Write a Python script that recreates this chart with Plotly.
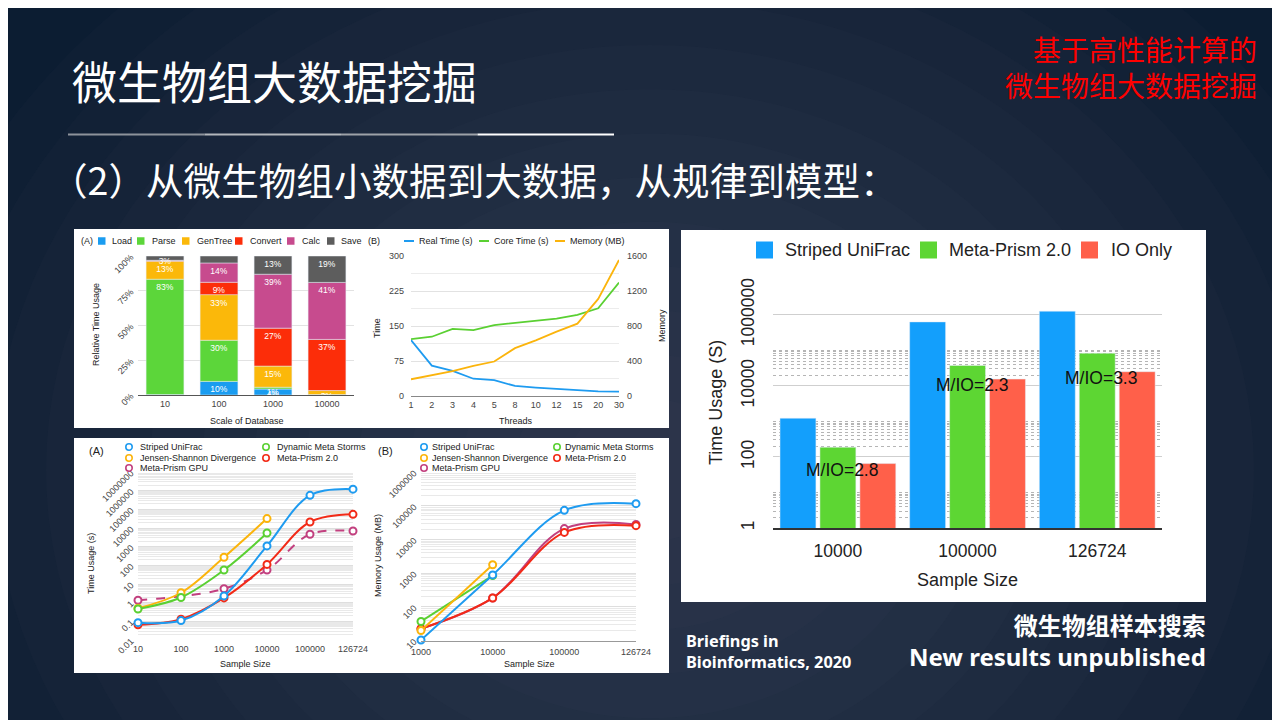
import plotly.graph_objects as go
import math

W, H = 1280, 720
OFF = 8  # page body margin offset compensation
def X(px): return (px - OFF) / W
def Y(py): return 1 - (py - OFF) / H

# ---------------- data ----------------
# (A) relative time usage by stage
scales = ["10", "100", "1000", "10000"]
stage_names = ["Load", "Parse", "GenTree", "Convert", "Calc", "Save"]
load = [0.3, 9.8, 4.3, 0.2]
parse = [83.0, 29.6, 1.3, 0.1]
gentree = [13.0, 32.8, 15.2, 2.9]
convert = [0.3, 8.9, 27.3, 36.8]
calc = [0.3, 13.9, 38.8, 41.0]
save = [3.1, 5.0, 13.1, 19.0]
stage_colors = ["#1a9cf0", "#5cd63a", "#fbb80a", "#fc2d09", "#c74b8e", "#5d5d5d"]

# (B) threads
threads = ["1", "2", "3", "4", "5", "8", "10", "12", "15", "20", "30"]
real_time = [120, 65, 54, 37, 34, 21.5, 18, 15, 13.6, 10, 9.3]
core_time = [122, 127, 144, 141, 152, 157, 161, 166, 174, 188, 243]
memory_mb = [191, 241, 283, 344, 394, 547, 635, 735, 827, 1110, 1554]

# (A) time usage vs sample size
time_sizes = ["10", "100", "1000", "10000", "100000", "126724"]
t_striped = [0.085, 0.11, 2.3, 1100, 560000, 1200000]
t_jsd = [0.5, 3.4, 270, 32000]
t_dms = [0.46, 1.9, 56, 5400]
t_mp2 = [0.066, 0.13, 1.8, 112, 21000, 54000]
t_gpu = [1.35, 2.2, 5.6, 56, 4600, 6900]

# (B) memory usage vs sample size
mem_sizes = ["1000", "10000", "100000", "126724"]
m_striped = [10.5, 890, 73000, 115000]
m_jsd = [20, 1780]
m_dms = [37, 850]
m_mp2 = [22.7, 185, 16200, 25700]
m_gpu = [22.7, 185, 21000, 28000]

method_names = ["Striped UniFrac", "Jensen-Shannon Divergence", "Meta-Prism GPU",
                "Dynamic Meta Storms", "Meta-Prism 2.0"]
method_colors = {"Striped UniFrac": "#1e9bf0", "Jensen-Shannon Divergence": "#fbb40c",
                 "Meta-Prism GPU": "#c2407f", "Dynamic Meta Storms": "#5ad032",
                 "Meta-Prism 2.0": "#f22a17"}

# right: new results
bar_sizes = ["10000", "100000", "126724"]
b_striped = [1230, 630000, 1260000]
b_mp2 = [187, 37500, 83000]
b_io = [65, 15500, 25000]
ratio_labels = ["M/IO=2.8", "M/IO=2.3", "M/IO=3.3"]
bar_names = ["Striped UniFrac", "Meta-Prism 2.0", "IO Only"]
bar_colors = ["#139ffc", "#5dd633", "#ff604a"]

# ---------------- figure ----------------
fig = go.Figure()
shapes = []
annotations = []
CF = "Liberation Sans"

def text(px, py, s, size, color="#222", xanchor="left", yanchor="middle",
         family=CF, angle=0, align="left"):
    annotations.append(dict(x=X(px), y=Y(py), xref="paper", yref="paper", text=s,
                            showarrow=False, xanchor=xanchor, yanchor=yanchor, align=align,
                            textangle=angle, font=dict(size=size, color=color, family=family)))

# background glow
for i in range(14):
    r = 760 - i * 52
    shapes.append(dict(type="circle", xref="paper", yref="paper", layer="below",
                       x0=X(650 - r), x1=X(650 + r), y0=Y(470 + r * 0.85), y1=Y(470 - r * 0.85),
                       fillcolor="rgba(88,104,124,0.045)", line=dict(width=0)))
# white panels
for (x0, y0, x1, y1) in [(74, 229, 669, 428), (74, 438, 669, 673), (681, 230, 1206, 602)]:
    shapes.append(dict(type="rect", xref="paper", yref="paper", layer="below",
                       x0=X(x0), x1=X(x1), y0=Y(y1), y1=Y(y0),
                       fillcolor="white", line=dict(width=0)))
# separator line
for k, c in enumerate(["#8d939b", "#b3b7bc", "#9da2a8", "#ffffff"]):
    shapes.append(dict(type="line", xref="paper", yref="paper",
                       x0=X(68 + k * 136.5), x1=X(68 + (k + 1) * 136.5), y0=Y(134.5), y1=Y(134.5),
                       line=dict(color=c, width=2)))

# ---- chart 1 : stacked bars ----
stages = [load, parse, gentree, convert, calc, save]
base = [0.0] * len(scales)
for name, vals, col in zip(stage_names, stages, stage_colors):
    labels = [f"{round(v)}%" if v >= 0.5 else "" for v in vals]
    fig.add_trace(go.Bar(x=scales, y=vals, base=list(base), name=name, marker_color=col,
                         width=0.7, offset=-0.35, text=labels, textposition="inside",
                         insidetextanchor="end", textangle=0, constraintext="none",
                         textfont=dict(size=8.5, color="white", family=CF),
                         xaxis="x", yaxis="y", showlegend=False, cliponaxis=False))
    base = [b + v for b, v in zip(base, vals)]

# ---- chart 2 : threads lines ----
fig.add_trace(go.Scatter(x=threads, y=real_time, mode="lines", line=dict(color="#1e9bf0", width=1.8),
                         xaxis="x2", yaxis="y2", showlegend=False))
fig.add_trace(go.Scatter(x=threads, y=core_time, mode="lines", line=dict(color="#5ad032", width=1.8),
                         xaxis="x2", yaxis="y2", showlegend=False))
fig.add_trace(go.Scatter(x=threads, y=memory_mb, mode="lines", line=dict(color="#fbb40c", width=1.8),
                         xaxis="x2", yaxis="y3", showlegend=False))

# ---- chart 3 : time usage ----
def method_trace(xs, ys, name, xa, ya, dash="solid"):
    c = method_colors[name]
    return go.Scatter(x=xs[:len(ys)], y=ys, mode="lines+markers", name=name,
                      line=dict(color=c, width=2, shape="spline", dash=dash),
                      marker=dict(symbol="circle", size=7, color="white", line=dict(color=c, width=2)),
                      xaxis=xa, yaxis=ya, showlegend=False, cliponaxis=False)

fig.add_trace(method_trace(time_sizes, t_gpu, "Meta-Prism GPU", "x3", "y4", dash="dash"))
fig.add_trace(method_trace(time_sizes, t_jsd, "Jensen-Shannon Divergence", "x3", "y4"))
fig.add_trace(method_trace(time_sizes, t_dms, "Dynamic Meta Storms", "x3", "y4"))
fig.add_trace(method_trace(time_sizes, t_mp2, "Meta-Prism 2.0", "x3", "y4"))
fig.add_trace(method_trace(time_sizes, t_striped, "Striped UniFrac", "x3", "y4"))

# ---- chart 4 : memory usage ----
fig.add_trace(method_trace(mem_sizes, m_gpu, "Meta-Prism GPU", "x4", "y5"))
fig.add_trace(method_trace(mem_sizes, m_mp2, "Meta-Prism 2.0", "x4", "y5"))
fig.add_trace(method_trace(mem_sizes, m_dms, "Dynamic Meta Storms", "x4", "y5"))
fig.add_trace(method_trace(mem_sizes, m_jsd, "Jensen-Shannon Divergence", "x4", "y5"))
fig.add_trace(method_trace(mem_sizes, m_striped, "Striped UniFrac", "x4", "y5"))

# ---- chart 5 : grouped bars (log) ----
bw, step, start = 0.277, 0.308, -0.446
for k, (name, vals, col) in enumerate(zip(bar_names, [b_striped, b_mp2, b_io], bar_colors)):
    fig.add_trace(go.Bar(x=bar_sizes, y=vals, name=name, marker_color=col, width=bw,
                         offset=start + k * step, xaxis="x5", yaxis="y6", showlegend=False))
for i, (lab, v) in enumerate(zip(ratio_labels, b_io)):
    annotations.append(dict(x=i, y=math.log10(v), xref="x5", yref="y6", text=lab, showarrow=False,
                            xshift=4, yshift=-6, font=dict(size=17.5, color="#111", family=CF)))

# ---------------- legends (manual) ----------------
def sq(x0, x1, cy, col):
    h = (x1 - x0) / 2
    shapes.append(dict(type="rect", xref="paper", yref="paper", x0=X(x0), x1=X(x1),
                       y0=Y(cy + h), y1=Y(cy - h), fillcolor=col, line=dict(width=0)))

def seg(x0, x1, cy, col):
    shapes.append(dict(type="line", xref="paper", yref="paper", x0=X(x0), x1=X(x1),
                       y0=Y(cy), y1=Y(cy), line=dict(color=col, width=2)))

def circ(cx, cy, col, r=3.2):
    shapes.append(dict(type="circle", xref="paper", yref="paper", x0=X(cx - r), x1=X(cx + r),
                       y0=Y(cy + r), y1=Y(cy - r), fillcolor="white", line=dict(color=col, width=1.6)))

# chart 1 legend
text(79, 241, "(A)", 9)
for name, col, (s0, tx) in zip(stage_names, stage_colors,
                               [(98, 110), (137, 150), (182, 195), (235, 248), (287, 300), (327, 339)]):
    sq(s0, s0 + 7.5, 241, col)
    text(tx, 241, name, 9)
# chart 2 legend
text(366, 241, "(B)", 9)
for name, col, (s0, tx) in zip(["Real Time (s)", "Core Time (s)", "Memory (MB)"],
                               ["#1e9bf0", "#5ad032", "#fbb40c"],
                               [(404, 417), (479, 492), (555, 568)]):
    seg(s0, s0 + 10, 241, col)
    text(tx, 241, name, 9)
# chart 3/4 legends
leg_pos = {"Striped UniFrac": (0, 447), "Jensen-Shannon Divergence": (0, 458),
           "Meta-Prism GPU": (0, 468), "Dynamic Meta Storms": (1, 447), "Meta-Prism 2.0": (1, 458)}
for (lab, lx, cols) in [("(A)", 87, [(129, 138), (266, 275)]), ("(B)", 376, [(424, 430), (557, 563)])]:
    text(lx, 451, lab, 11)
    for name in method_names:
        col_i, cy = leg_pos[name]
        cx, tx = cols[col_i]
        circ(cx, cy, method_colors[name])
        text(tx, cy, name, 9)
# chart 5 legend
for name, col, (s0, tx) in zip(bar_names, bar_colors, [(756, 783), (920, 947), (1081, 1109)]):
    sq(s0, s0 + 17, 250, col)
    text(tx, 250, name, 18)

# ---------------- axis titles ----------------
text(96, 325, "Relative Time Usage", 9, xanchor="center", angle=-90)
text(247, 421, "Scale of Database", 9, xanchor="center")
text(377, 328, "Time", 9, xanchor="center", angle=-90)
text(662, 326, "Memory", 9, xanchor="center", angle=-90)
text(516, 421, "Threads", 9, xanchor="center")
text(91, 564, "Time Usage (s)", 9, xanchor="center", angle=-90)
text(245, 664, "Sample Size", 9, xanchor="center")
text(378, 556, "Memory Usage (MB)", 9, xanchor="center", angle=-90)
text(529, 664, "Sample Size", 9, xanchor="center")
text(716, 403, "Time Usage (S)", 18, xanchor="center", angle=-90)
text(967, 580, "Sample Size", 18, xanchor="center")

# ---------------- slide texts ----------------
CJK = "Noto Sans CJK SC"
text(70, 81, "微生物组大数据挖掘", 45, color="white", family=CJK)
text(47.5, 178, "（2）从微生物组小数据到大数据，从规律到模型：", 37.6, color="white", family=CJK)
text(1259, 67, "基于高性能计算的<br>微生物组大数据挖掘", 28, color="#ff0000", xanchor="right",
     family=CJK, align="right")
text(684, 651, "<b>Briefings in<br>Bioinformatics, 2020</b>", 16.3, color="white", family="Noto Sans")
text(1208, 641, "<b>微生物组样本搜索<br>New results unpublished</b>", 24, color="white",
     xanchor="right", family="Noto Sans, Noto Sans CJK SC", align="right")

# ---------------- axes ----------------
tick9 = dict(size=9, color="#444", family=CF)
grid = "#e2e2e2"
lay = dict(
    xaxis=dict(domain=[X(138), X(354)], anchor="y", type="category", range=[-0.5, 3.5],
               showline=True, linecolor="#555", tickfont=tick9, showgrid=False),
    yaxis=dict(domain=[Y(395), Y(256)], anchor="x", range=[0, 100], tickvals=[0, 25, 50, 75, 100],
               ticktext=["0%", "25%", "50%", "75%", "100%"], tickangle=-45, tickfont=tick9,
               gridcolor=grid, zeroline=False, ticklabelstandoff=6),
    xaxis2=dict(domain=[X(411), X(619)], anchor="y2", type="category", range=[0, 10],
                showline=True, linecolor="#888", tickfont=tick9, showgrid=False),
    yaxis2=dict(domain=[Y(396), Y(256)], anchor="x2", range=[0, 300], dtick=75, tickfont=tick9,
                gridcolor=grid, zeroline=False, ticklabelstandoff=6,
                minor=dict(dtick=37.5, showgrid=True, gridcolor="#ececec")),
    yaxis3=dict(overlaying="y2", anchor="x2", side="right", range=[0, 1600], dtick=400,
                tickfont=tick9, showgrid=False, zeroline=False, ticklabelstandoff=7),
    xaxis3=dict(domain=[X(138), X(353)], anchor="y4", type="category", range=[0, 5],
                showline=False, tickfont=tick9, showgrid=False, ticklabelstandoff=2),
    yaxis4=dict(domain=[Y(640), Y(472)], anchor="x3", type="log", range=[-2, 7],
                tickvals=[0.01, 0.1, 1, 10, 100, 1000, 1e4, 1e5, 1e6, 1e7],
                ticktext=["0.01", "0.1", "1", "10", "100", "1000", "10000", "100000", "1000000", "10000000"],
                tickangle=-45, tickfont=tick9, gridcolor="#dedede", zeroline=False, ticklabelstandoff=6,
                minor=dict(dtick="D1", showgrid=True, gridcolor="#e9e9e9")),
    xaxis4=dict(domain=[X(421), X(636)], anchor="y5", type="category", range=[0, 3],
                showline=True, linecolor="#999", tickfont=tick9, showgrid=False, ticklabelstandoff=2),
    yaxis5=dict(domain=[Y(640.7), Y(472)], anchor="x4", type="log", range=[1, 6],
                tickvals=[10, 100, 1000, 1e4, 1e5, 1e6],
                ticktext=["10", "100", "1000", "10000", "100000", "1000000"],
                tickangle=-45, tickfont=tick9, gridcolor="#dedede", zeroline=False, ticklabelstandoff=6,
                minor=dict(dtick="D1", showgrid=True, gridcolor="#e9e9e9")),
    xaxis5=dict(domain=[X(773), X(1162)], anchor="y6", type="category", range=[-0.5, 2.5],
                showline=True, linecolor="#333", linewidth=1.5, showgrid=False,
                tickfont=dict(size=17.5, color="#222", family=CF), ticklabelstandoff=6),
    yaxis6=dict(domain=[Y(528), Y(297)], anchor="x5", type="log", range=[0, 6.5],
                tickvals=[1, 100, 1e4, 1e6], ticktext=["1", "100", "10000", "1000000"],
                tickangle=-90, tickfont=dict(size=17.5, color="#222", family=CF),
                gridcolor="#cfcfcf", zeroline=False, ticklabelstandoff=15,
                minor=dict(tickvals=[m * 10 ** k for k in (0, 2, 4) for m in range(2, 11)],
                           showgrid=True, gridcolor="#b5b5b5", griddash="dot")),
)
for k in lay:
    lay[k]["automargin"] = False
    lay[k]["fixedrange"] = True
fig.update_layout(**lay)
fig.update_layout(width=W, height=H, margin=dict(l=0, r=0, t=0, b=0, pad=0, autoexpand=False),
                  paper_bgcolor="#0c1d32", plot_bgcolor="rgba(0,0,0,0)",
                  barmode="overlay", showlegend=False, hovermode=False,
                  uniformtext=dict(minsize=8.5, mode="show"),
                  shapes=shapes, annotations=annotations)
fig.write_html("out.html", config={"displayModeBar": False})
